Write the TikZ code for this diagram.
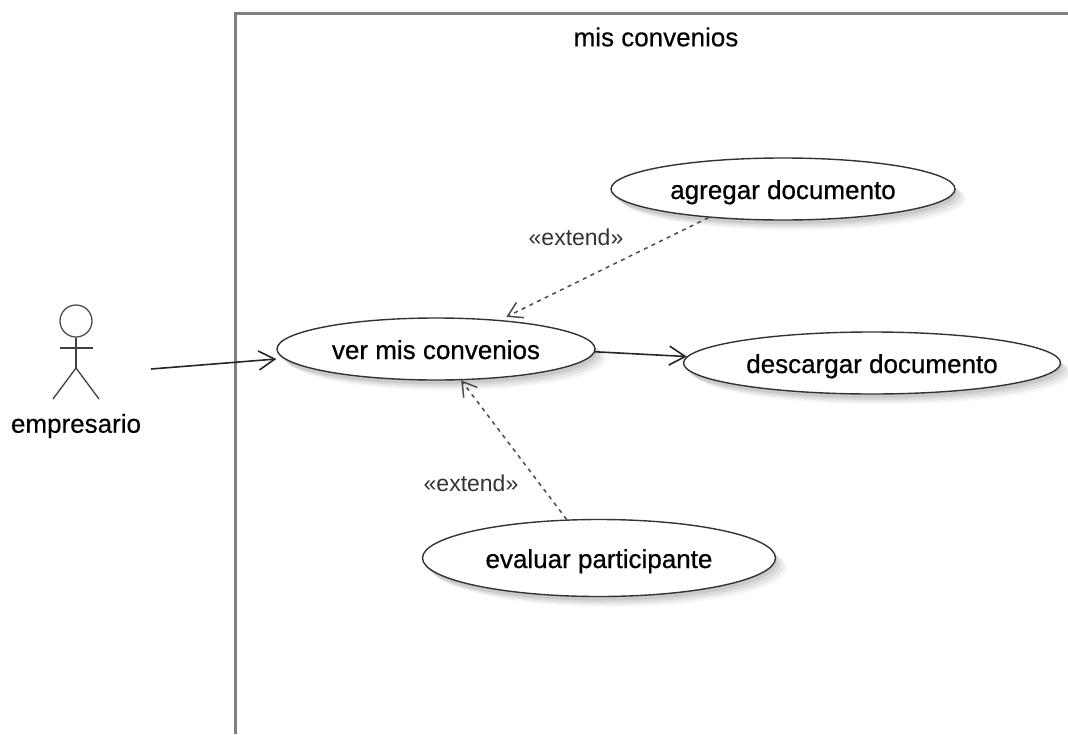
\documentclass[tikz,border=0pt]{standalone}
\usepackage{fontspec}
\setmainfont{Liberation Sans}
\newfontfamily\heavyfont[FakeBold=0.6]{Liberation Sans}
\newfontfamily\mediumfont[FakeBold=0.3]{Liberation Sans}
\usetikzlibrary{arrows.meta,shadows,shapes.geometric}
\tikzset{
	usecase/.style={ellipse,draw=black!80,line width=1.4pt,fill=white,inner sep=0pt,
		font=\heavyfont\fontsize{26}{30}\selectfont,text height=20pt,text depth=0pt,
		drop shadow={shadow xshift=11pt,shadow yshift=-10pt,opacity=.04,fill=black},
		drop shadow={shadow xshift=8pt,shadow yshift=-8pt,opacity=.05,fill=black},
		drop shadow={shadow xshift=5pt,shadow yshift=-6pt,opacity=.06,fill=black},
		drop shadow={shadow xshift=2pt,shadow yshift=-4pt,opacity=.07,fill=black}},
	actorline/.style={line width=1.3pt,draw=black!75},
	assoc/.style={line width=1.6pt,draw=black!85,-{Straight Barb[length=16pt,width=19pt]}},
	extendline/.style={line width=1.5pt,draw=black!70,dash pattern=on 4pt off 4.5pt,-{Straight Barb[length=14pt,width=17pt]}},
	stereo/.style={font=\fontsize{23}{28}\selectfont,text=black!80,inner sep=0pt},
	plainlabel/.style={font=\mediumfont\fontsize{26}{30}\selectfont,inner sep=0pt}
}
\begin{document}
\begin{tikzpicture}[x=1pt,y=-1pt]
	\useasboundingbox (0,0) rectangle (1068,734);
	\fill[white] (0,0) rectangle (1068,734);

	\coordinate (framebl) at (235,734);
	\coordinate (frametl) at (235,13);
	\coordinate (frametr) at (1068,13);
	\draw[line width=3pt,draw=black!50] (framebl) -- (frametl) -- (frametr);
	\node[plainlabel] (system) at (656,37) {mis convenios};

	\node[circle,draw=black!70,line width=1.3pt,minimum size=32pt,inner sep=0pt] (head) at (76,321) {};
	\coordinate (hip) at (76,368);
	\coordinate (handl) at (60,348);
	\coordinate (handr) at (93,348);
	\coordinate (footl) at (53,399);
	\coordinate (footr) at (99,399);
	\draw[actorline] (head.south) -- (hip);
	\draw[actorline] (handl) -- (handr);
	\draw[actorline] (footl) -- (hip) -- (footr);
	\node[plainlabel] (empresario) at (76,426) {empresario};

	\node[usecase,minimum width=318pt,minimum height=62pt] (ver) at (436,349) {ver mis convenios};
	\node[usecase,minimum width=344pt,minimum height=62pt] (agregar) at (783,189) {agregar documento};
	\node[usecase,minimum width=377pt,minimum height=62pt] (descargar) at (872,363) {descargar documento};
	\node[usecase,minimum width=353pt,minimum height=77pt] (evaluar) at (599,558) {evaluar participante};

	\coordinate (actorout) at (151,369);
	\draw[assoc] (actorout) -- ([yshift=-10pt]ver.west);
	\draw[assoc] (ver.-1.5) -- (descargar.178.5);
	\draw[extendline] (agregar.201.5) -- ([xshift=-3pt,yshift=4pt]ver.21.5);
	\draw[extendline] (evaluar.130.5) -- ([xshift=-2pt,yshift=0pt]ver.-49.6);

	\node[stereo] (extendup) at (576,237) {«extend»};
	\node[stereo] (extenddown) at (471,483) {«extend»};
\end{tikzpicture}
\end{document}
